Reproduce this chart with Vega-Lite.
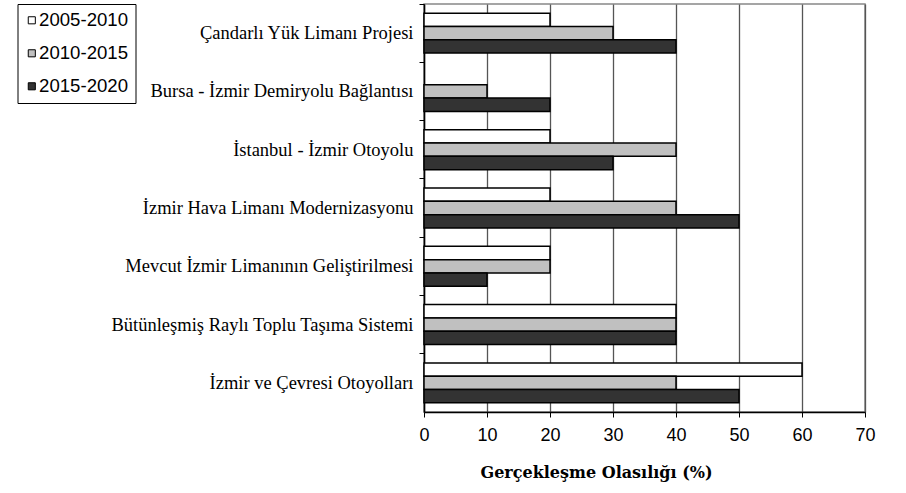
{
  "$schema": "https://vega.github.io/schema/vega-lite/v6.json",
  "width": 441,
  "height": 408,
  "autosize": {"type": "none"},
  "padding": {"left": 424, "top": 4, "right": 41, "bottom": 81},
  "background": "white",
  "config": {
    "view": {"stroke": "#888888", "strokeWidth": 1.5},
    "axis": {"labelColor": "black", "titleColor": "black", "domainColor": "black", "tickColor": "black"}
  },
  "data": {
    "values": [
      {"proje": "Çandarlı Yük Limanı Projesi", "donem": "2005-2010", "deger": 20},
      {"proje": "Çandarlı Yük Limanı Projesi", "donem": "2010-2015", "deger": 30},
      {"proje": "Çandarlı Yük Limanı Projesi", "donem": "2015-2020", "deger": 40},
      {"proje": "Bursa - İzmir Demiryolu Bağlantısı", "donem": "2010-2015", "deger": 10},
      {"proje": "Bursa - İzmir Demiryolu Bağlantısı", "donem": "2015-2020", "deger": 20},
      {"proje": "İstanbul - İzmir Otoyolu", "donem": "2005-2010", "deger": 20},
      {"proje": "İstanbul - İzmir Otoyolu", "donem": "2010-2015", "deger": 40},
      {"proje": "İstanbul - İzmir Otoyolu", "donem": "2015-2020", "deger": 30},
      {"proje": "İzmir Hava Limanı Modernizasyonu", "donem": "2005-2010", "deger": 20},
      {"proje": "İzmir Hava Limanı Modernizasyonu", "donem": "2010-2015", "deger": 40},
      {"proje": "İzmir Hava Limanı Modernizasyonu", "donem": "2015-2020", "deger": 50},
      {"proje": "Mevcut İzmir Limanının Geliştirilmesi", "donem": "2005-2010", "deger": 20},
      {"proje": "Mevcut İzmir Limanının Geliştirilmesi", "donem": "2010-2015", "deger": 20},
      {"proje": "Mevcut İzmir Limanının Geliştirilmesi", "donem": "2015-2020", "deger": 10},
      {"proje": "Bütünleşmiş Raylı Toplu Taşıma Sistemi", "donem": "2005-2010", "deger": 40},
      {"proje": "Bütünleşmiş Raylı Toplu Taşıma Sistemi", "donem": "2010-2015", "deger": 40},
      {"proje": "Bütünleşmiş Raylı Toplu Taşıma Sistemi", "donem": "2015-2020", "deger": 40},
      {"proje": "İzmir ve Çevresi Otoyolları", "donem": "2005-2010", "deger": 60},
      {"proje": "İzmir ve Çevresi Otoyolları", "donem": "2010-2015", "deger": 40},
      {"proje": "İzmir ve Çevresi Otoyolları", "donem": "2015-2020", "deger": 50}
    ]
  },
  "mark": {"type": "bar", "stroke": "black", "strokeWidth": 1.5},
  "encoding": {
    "y": {
      "field": "proje",
      "type": "nominal",
      "sort": null,
      "scale": {"paddingInner": 0, "paddingOuter": 0},
      "axis": {
        "title": null,
        "bandPosition": 0,
        "tickSize": 5,
        "labelPadding": 6,
        "labelFont": "Liberation Serif",
        "labelFontSize": 18.5,
        "labelLimit": 400,
        "domainWidth": 1.5,
        "grid": false
      }
    },
    "yOffset": {
      "field": "donem",
      "type": "nominal",
      "scale": {"paddingInner": 0, "paddingOuter": 0.69}
    },
    "x": {
      "field": "deger",
      "type": "quantitative",
      "scale": {"domain": [0, 70], "nice": false},
      "axis": {
        "title": "Gerçekleşme Olasılığı (%)",
        "values": [0, 10, 20, 30, 40, 50, 60, 70],
        "tickSize": 5,
        "labelPadding": 9,
        "labelFont": "Liberation Sans",
        "labelFontSize": 18,
        "labelFlush": false,
        "domainWidth": 1.5,
        "grid": true,
        "gridColor": "#555555",
        "gridWidth": 1.3,
        "gridOpacity": 1,
        "titleFont": "DejaVu Serif",
        "titleFontSize": 16,
        "titleFontWeight": "bold",
        "titleX": 172,
        "titleY": 65,
        "titleAlign": "center",
        "titleBaseline": "alphabetic"
      }
    },
    "color": {
      "field": "donem",
      "type": "nominal",
      "scale": {"domain": ["2005-2010", "2010-2015", "2015-2020"], "range": ["#ffffff", "#c0c0c0", "#333333"]},
      "legend": {
        "title": null,
        "orient": "none",
        "legendX": -406.5,
        "legendY": 0,
        "strokeColor": "black",
        "fillColor": "white",
        "padding": 7,
        "symbolType": "square",
        "symbolSize": 50,
        "symbolOffset": -2,
        "symbolStrokeColor": "black",
        "symbolStrokeWidth": 1,
        "labelFont": "Liberation Sans",
        "labelFontSize": 18.6,
        "labelColor": "black",
        "rowPadding": 14,
        "labelOffset": -2
      }
    }
  }
}
